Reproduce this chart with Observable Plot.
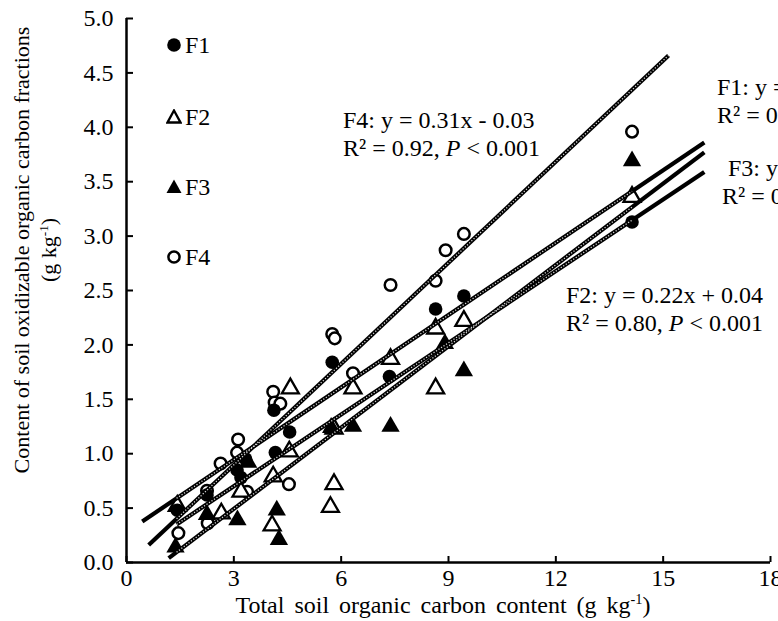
<!DOCTYPE html>
<html><head><meta charset="utf-8">
<script src="https://cdn.jsdelivr.net/npm/d3@7"></script>
<script src="https://cdn.jsdelivr.net/npm/@observablehq/plot@0.6"></script>
<style>
body{margin:0;overflow:hidden;background:#fff;}
#wrap{position:relative;width:778px;height:621px;overflow:hidden;font-family:"Liberation Serif","Times New Roman",serif;color:#000;}
.ann{position:absolute;font-size:24px;line-height:28px;white-space:nowrap;}
.xt{position:absolute;font-size:24px;line-height:28px;white-space:nowrap;word-spacing:4px;}
.leg{position:absolute;font-size:24px;line-height:24px;white-space:nowrap;display:flex;align-items:center;}
.leg svg{margin-right:3px;}
sup{font-size:0.6em;vertical-align:0.6em;line-height:0;}
.ytitle{position:absolute;width:560px;text-align:center;font-size:22px;line-height:24px;white-space:nowrap;transform:translate(-50%,-50%) rotate(-90deg);}
</style></head><body><div id="wrap"></div>
<script>
// ---- data ----
const xTicks = [0, 3, 6, 9, 12, 15, 18];
const yTicks = [0, 0.5, 1, 1.5, 2, 2.5, 3, 3.5, 4, 4.5, 5];

const f1X = [1.42, 2.25, 3.09, 3.33, 3.2, 4.12, 4.16, 4.56, 5.75, 7.35, 8.64, 9.43, 14.13];
const f1Y = [0.48, 0.62, 0.85, 0.95, 0.78, 1.40, 1.01, 1.20, 1.84, 1.71, 2.33, 2.45, 3.13];

const f2X = [1.42, 2.65, 3.2, 4.07, 4.1, 4.55, 4.58, 5.7, 5.8, 5.8, 6.33, 7.38, 8.64, 8.64, 9.43, 14.13];
const f2Y = [0.52, 0.45, 0.65, 0.34, 0.79, 1.02, 1.60, 0.51, 0.72, 1.23, 1.60, 1.87, 1.60, 2.15, 2.22, 3.36];

const f3X = [1.37, 2.25, 3.1, 3.4, 4.2, 4.26, 5.72, 6.33, 7.38, 8.9, 9.43, 14.13];
const f3Y = [0.14, 0.44, 0.39, 0.92, 0.48, 0.21, 1.24, 1.25, 1.25, 2.01, 1.76, 3.69];

const f4X = [1.45, 2.27, 2.25, 2.63, 3.09, 3.12, 3.37, 4.1, 4.14, 4.3, 4.54, 5.75, 5.82, 6.33, 7.38, 8.64, 8.92, 9.43, 14.13];
const f4Y = [0.27, 0.36, 0.66, 0.91, 1.01, 1.13, 0.65, 1.57, 1.47, 1.46, 0.72, 2.10, 2.06, 1.74, 2.55, 2.59, 2.87, 3.02, 3.96];

// fitted lines as drawn: start and end points
const lineNames = ["F1", "F2", "F3", "F4"];
const lineX1 = [0.44, 1.40, 1.18, 0.62];
const lineY1 = [0.377, 0.35, 0.04, 0.16];
const lineX2 = [16.15, 16.15, 16.15, 15.15];
const lineY2 = [3.86, 3.59, 3.77, 4.66];
// range of the observations along each line (dotted part)
const obsMin = [1.4, 1.4, 1.4, 1.4];
const obsMax = [14.13, 14.13, 14.13, 15.15];

// ---- build ----
const pts = (X, Y) => X.map((x, i) => ({x, y: Y[i]}));
const F1 = pts(f1X, f1Y), F2 = pts(f2X, f2Y), F3 = pts(f3X, f3Y), F4 = pts(f4X, f4Y);
const lines = lineNames.map((n, i) => ({n, x1: lineX1[i], y1: lineY1[i], x2: lineX2[i], y2: lineY2[i]}));
const at = (l, x) => l.y1 + (l.y2 - l.y1) * (x - l.x1) / (l.x2 - l.x1);
const dotted = lines.map((l, i) => ({x1: obsMin[i], y1: at(l, obsMin[i]), x2: obsMax[i], y2: at(l, obsMax[i])}));

const font = "Liberation Serif, Times New Roman, serif";
const plot = Plot.plot({
  width: 778, height: 621,
  marginLeft: 126, marginRight: 8, marginTop: 18, marginBottom: 59,
  style: {fontFamily: font, fontSize: "24px", color: "#000", background: "transparent"},
  x: {domain: [0, 18]},
  y: {domain: [0, 5]},
  marks: [
    Plot.axisX({ticks: xTicks, tickSize: -6, tickPadding: 12, tickFormat: d => d, fontSize: 24, label: null, strokeWidth: 2}),
    Plot.axisY({ticks: yTicks, tickSize: -7, tickPadding: 20, tickFormat: d3.format(".1f"), fontSize: 24, label: null, strokeWidth: 2}),
    Plot.ruleY([0], {stroke: "#000", strokeWidth: 2.5}),
    Plot.ruleX([0], {stroke: "#000", strokeWidth: 2.5}),
    Plot.dot(F4, {x: "x", y: "y", symbol: "circle", r: 5.8, fill: "#fff", stroke: "#000", strokeWidth: 2.5}),
    Plot.dot(F2, {x: "x", y: "y", symbol: "triangle", r: 6.3, fill: "#fff", stroke: "#000", strokeWidth: 2.3}),
    Plot.dot(F1, {x: "x", y: "y", symbol: "circle", r: 6.8, fill: "#000", stroke: "none"}),
    Plot.dot(F3, {x: "x", y: "y", symbol: "triangle", r: 6.8, fill: "#000", stroke: "none"}),
    Plot.link(lines, {x1: "x1", y1: "y1", x2: "x2", y2: "y2", stroke: "#000", strokeWidth: 4.2}),
    Plot.link(dotted, {x1: "x1", y1: "y1", x2: "x2", y2: "y2", stroke: "#fff", strokeWidth: 1.3, strokeDasharray: "1.2,1.8", strokeOpacity: 0.85})
  ]
});
const wrap = document.getElementById("wrap");
wrap.appendChild(plot);

const html = `
<div class="ytitle" style="left:22px;top:250px;">Content of soil oxidizable organic carbon fractions</div>
<div class="ytitle" style="left:49px;top:250px;">(g kg<sup>-1</sup>)</div>
<div class="xt" style="left:0;width:886px;text-align:center;top:591px;">Total soil organic carbon content (g kg<sup>-1</sup>)</div>
<div class="ann" style="left:343px;top:106px;">F4: y = 0.31x - 0.03<br>R² = 0.92, <i>P</i> &lt; 0.001</div>
<div class="ann" style="left:717px;top:73px;">F1: y = 0.22x + 0.28<br>R² = 0.89, <i>P</i> &lt; 0.001</div>
<div class="ann" style="left:722px;top:154px;">&nbsp;F3: y = 0.25x - 0.26<br>R² = 0.86, <i>P</i> &lt; 0.001</div>
<div class="ann" style="left:566px;top:281px;">F2: y = 0.22x + 0.04<br>R² = 0.80, <i>P</i> &lt; 0.001</div>
<div class="leg" style="left:166px;top:33px;"><svg width="16" height="16"><circle cx="8" cy="8" r="6.8" fill="#000"/></svg>F1</div>
<div class="leg" style="left:166px;top:105px;"><svg width="16" height="16"><path d="M8,1.5L14.5,13.5L1.5,13.5Z" fill="#fff" stroke="#000" stroke-width="2.3"/></svg>F2</div>
<div class="leg" style="left:166px;top:175px;"><svg width="16" height="16"><path d="M8,0.5L15.5,14L0.5,14Z" fill="#000"/></svg>F3</div>
<div class="leg" style="left:166px;top:245px;"><svg width="16" height="16"><circle cx="8" cy="8" r="5.6" fill="#fff" stroke="#000" stroke-width="2.5"/></svg>F4</div>
`;
wrap.insertAdjacentHTML("beforeend", html);
</script></body></html>
